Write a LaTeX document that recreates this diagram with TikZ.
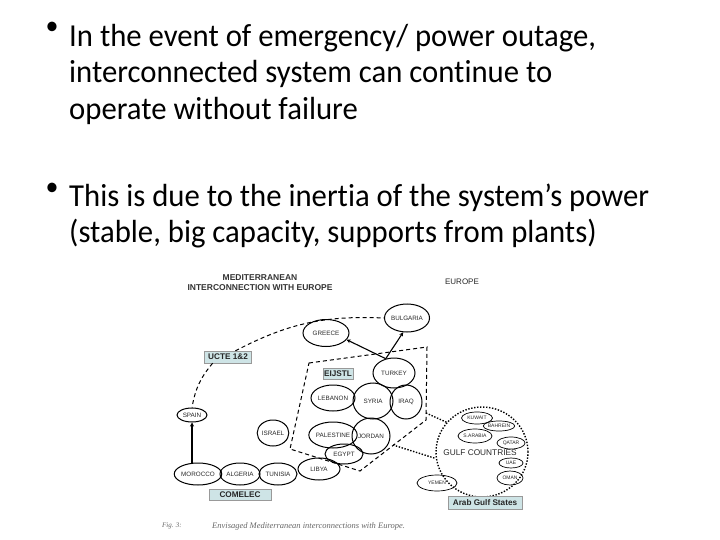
\documentclass[tikz,border=0pt]{standalone}
\usepackage{fontspec}
\setmainfont{Carlito}[FakeStretch=0.96, Ligatures=NoCommon]
\newfontfamily\diagfont{Liberation Sans}
\newfontfamily\capfont{Liberation Serif}
\usetikzlibrary{shapes.geometric,arrows.meta}

\definecolor{tagfill}{RGB}{206,228,230}
\newcommand\slidefont{\fontsize{32}{36.5}\selectfont}
\newcommand\ctryfont{\diagfont\fontsize{6.3}{7}\selectfont}
\newcommand\gulffont{\diagfont\fontsize{5}{6}\selectfont}
\newcommand\tagfont{\diagfont\bfseries\fontsize{8.2}{9}\selectfont}

\tikzset{
  country/.style={ellipse, draw, line width=1pt, inner sep=0pt, font=\ctryfont, text=black!85},
  gulfstate/.style={country, line width=0.7pt, font=\gulffont},
  tagbox/.style={draw=black!40, fill=tagfill, inner sep=0pt, font=\tagfont, text=black!85},
  link/.style={line width=1.1pt, -{Stealth[length=4pt,width=4pt]}},
  dashline/.style={line width=1pt, dash pattern=on 4pt off 3pt},
  dotline/.style={line width=1.4pt, dash pattern=on 1.4pt off 1.6pt},
  slide/.style={anchor=base west, font=\slidefont, inner sep=0pt},
  dot/.style={font=\fontsize{27}{27}\selectfont, inner sep=0pt},
}

\begin{document}
\begin{tikzpicture}[x=1pt, y=-1pt]
  \useasboundingbox (0,0) rectangle (720,540);

  % slide text
  \node[dot] (b1) at (52,28) {\textbullet};
  \node[slide] (l1) at (69,47)  {In the event of emergency/ power outage,};
  \node[slide] (l2) at (69,83)  {interconnected system can continue to};
  \node[slide] (l3) at (69,120) {operate without failure};
  \node[dot] (b2) at (52,189) {\textbullet};
  \node[slide] (l4) at (69,207) {This is due to the inertia of the system’s power};
  \node[slide] (l5) at (69,243) {(stable, big capacity, supports from plants)};

  % headings
  \node[font=\diagfont\bfseries\fontsize{8.5}{9}\selectfont, text=black!80] (title1) at (260,278) {MEDITERRANEAN};
  \node[font=\diagfont\bfseries\fontsize{8.5}{9}\selectfont, text=black!80] (title2) at (260,288) {INTERCONNECTION WITH EUROPE};
  \node[font=\diagfont\fontsize{8}{9}\selectfont, text=black!85] (europe) at (462,282) {EUROPE};

  % countries
  \node[country, minimum width=46pt, minimum height=27pt] (greece)    at (326,333) {GREECE};
  \node[country, minimum width=44pt, minimum height=28pt] (bulgaria)  at (407,318) {BULGARIA};
  \node[country, minimum width=42pt, minimum height=30pt] (turkey)    at (394,373) {TURKEY};
  \node[country, minimum width=44pt, minimum height=26pt] (lebanon)   at (333,398) {LEBANON};
  \node[country, minimum width=40pt, minimum height=36pt] (syria)     at (373,401) {SYRIA};
  \node[country, minimum width=32pt, minimum height=34pt] (iraq)      at (406,402) {IRAQ};
  \node[country, minimum width=42pt, minimum height=26pt] (palestine) at (333,435) {PALESTINE};
  \node[country, minimum width=38pt, minimum height=36pt] (jordan)    at (371,436) {JORDAN};
  \node[country, minimum width=38pt, minimum height=20pt] (egypt)     at (344,454) {EGYPT};
  \node[country, minimum width=42pt, minimum height=22pt] (libya)     at (319,469) {LIBYA};
  \node[country, minimum width=38pt, minimum height=22pt] (tunisia)   at (278,474) {TUNISIA};
  \node[country, minimum width=40pt, minimum height=22pt] (algeria)   at (240,474) {ALGERIA};
  \node[country, minimum width=42pt, minimum height=22pt] (morocco)   at (198,474) {MOROCCO};
  \node[country, minimum width=30pt, minimum height=14pt] (spain)     at (192,415) {SPAIN};
  \node[country, minimum width=30pt, minimum height=26pt] (israel)    at (273,433) {ISRAEL};

  % gulf region
  \node[ellipse, draw, dotline, minimum width=92pt, minimum height=90pt] (gulfzone) at (482,452) {};
  \node[font=\diagfont\fontsize{8.3}{9}\selectfont, text=black!85] (gulftext) at (480,453) {GULF COUNTRIES};
  \node[gulfstate, minimum width=31pt, minimum height=12pt] (kuwait)  at (477,418) {KUWAIT};
  \node[gulfstate, minimum width=28pt, minimum height=10pt] (bahrein) at (499,426) {BAHREIN};
  \node[gulfstate, minimum width=34pt, minimum height=14pt] (sarabia) at (475,436) {S.ARABIA};
  \node[gulfstate, minimum width=28pt, minimum height=12pt] (qatar)   at (511,443) {QATAR};
  \node[gulfstate, minimum width=24pt, minimum height=10pt] (uae)     at (511,463) {UAE};
  \node[gulfstate, minimum width=26pt, minimum height=14pt] (oman)    at (510,478) {OMAN};
  \node[gulfstate, minimum width=40pt, minimum height=16pt] (yemen)   at (437,483) {YEMEN};

  % tags
  \node[tagbox, minimum width=47pt, minimum height=12pt] (ucte)    at (228,357) {UCTE 1\&2};
  \node[tagbox, minimum width=30pt, minimum height=11pt] (eijstl)  at (338,374) {EIJSTL};
  \node[tagbox, minimum width=62pt, minimum height=11pt] (comelec) at (240,495) {COMELEC};
  \node[tagbox, minimum width=74pt, minimum height=13pt] (arab)    at (485,503) {Arab Gulf States};

  % EIJSTL border
  \coordinate (c1) at (309,363);
  \coordinate (c2) at (427,347);
  \coordinate (c3) at (426,420);
  \coordinate (c4) at (360,471);
  \coordinate (c5) at (290,449);
  \draw[dashline] (c1) -- (c2) -- (c3) -- (c4) -- (c5) -- cycle;
  \coordinate (e1) at (426,413);
  \coordinate (e2) at (393,445);
  \draw[dotline] (e1) -- (gulfzone.140);
  \draw[dotline] (e2) -- (gulfzone.188);

  % links
  \draw[dashline] (ucte.40) to[bend left=15] (bulgaria.west);
  \draw[dashline] (ucte.-158) to[bend right=15] (spain.north);
  \draw[link] (turkey.120) -- (greece.-18);
  \draw[link] (turkey.120) -- (bulgaria.-105);
  \draw[link, line width=1.6pt] (morocco.north -| spain.south) -- (spain.south);

  % caption
  \node[font=\capfont\itshape\fontsize{7}{8}\selectfont, text=black!60] (fig) at (172,526) {Fig. 3:};
  \node[anchor=west, inner sep=0pt, font=\capfont\itshape\fontsize{8.5}{9}\selectfont, text=black!60] (caption) at (212,526) {Envisaged Mediterranean interconnections with Europe.};
\end{tikzpicture}
\end{document}
